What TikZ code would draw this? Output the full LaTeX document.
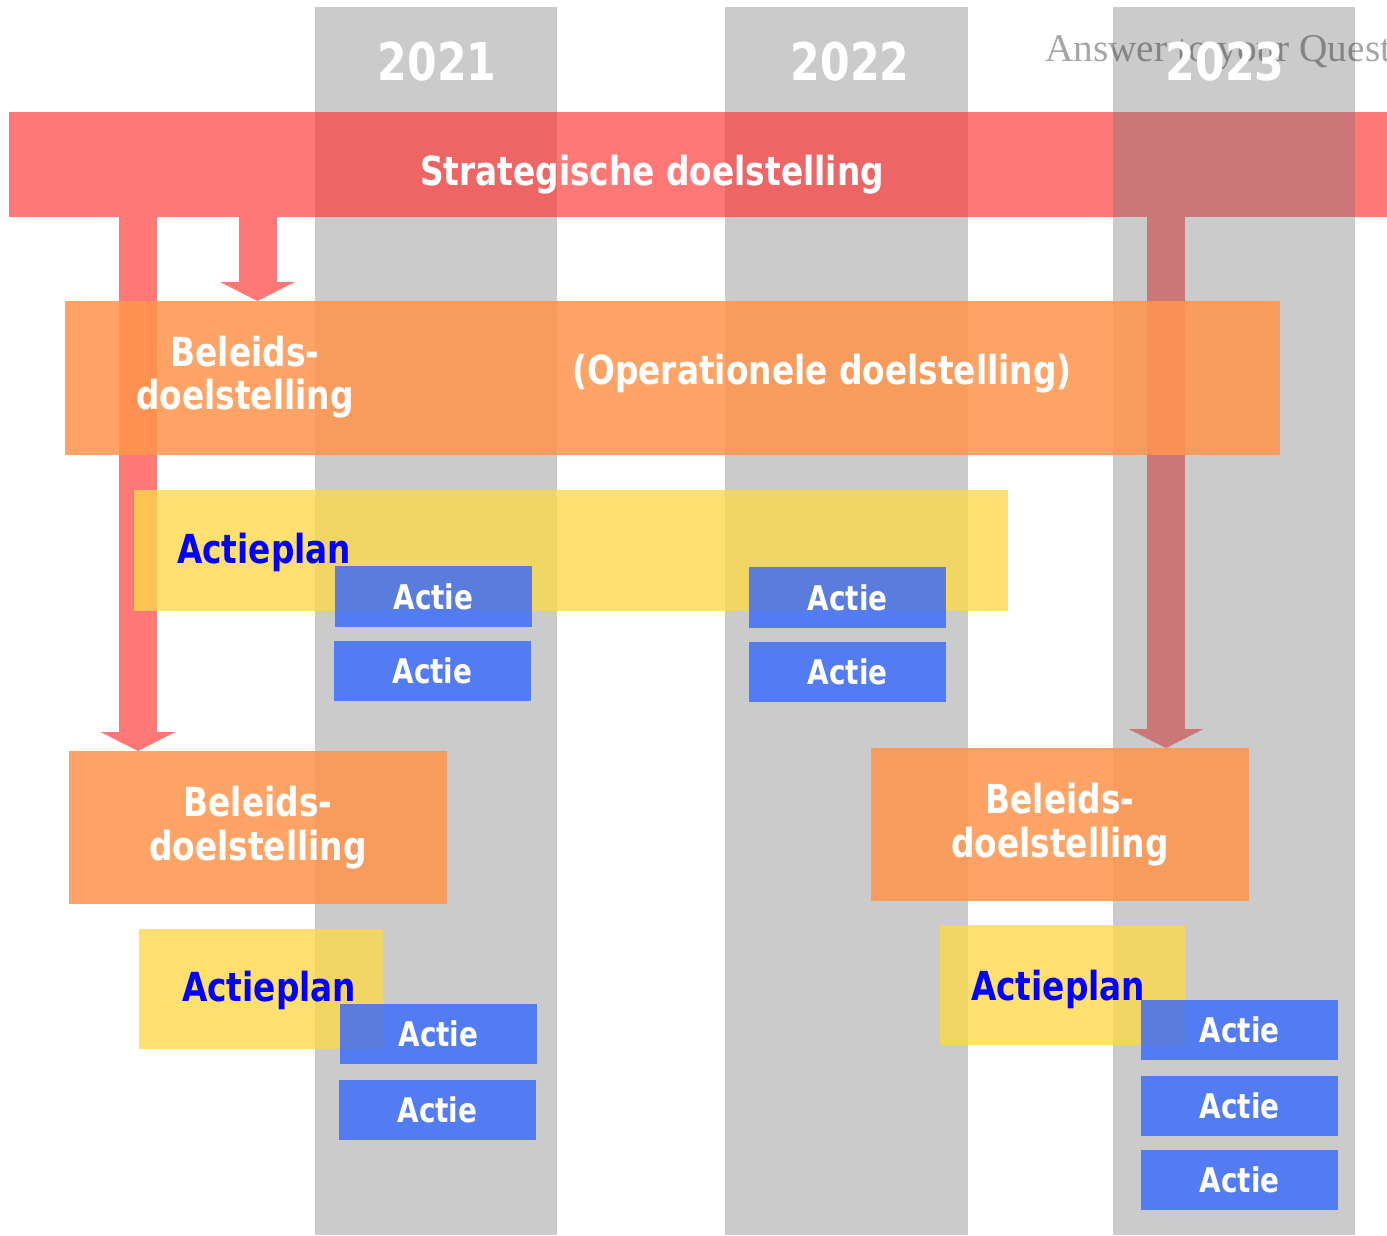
\documentclass[tikz,border=0pt]{standalone}
\usepackage{fontspec}
\newfontfamily\tah{DejaVu Sans}[FakeStretch=0.82]
\newfontfamily\wmfont{Liberation Serif}
\usetikzlibrary{arrows.meta}
\pgfdeclarelayer{cols}\pgfdeclarelayer{bars}\pgfdeclarelayer{arrows}
\pgfsetlayers{cols,bars,arrows,main}
\newdimen\pxu \pxu=0.75pt
\definecolor{colgray}{HTML}{CBCBCB}
\definecolor{barred}{HTML}{FF3535}
\definecolor{colred}{HTML}{CC7777}
\definecolor{arrowred}{HTML}{FF7777}
\definecolor{orangeF}{HTML}{FF954E}
\definecolor{yellowF}{HTML}{FCD84A}
\definecolor{blueF}{HTML}{3567FC}
\definecolor{planblue}{HTML}{0000FF}
\begin{document}
\begin{tikzpicture}[x=0.75pt,y=-0.75pt,
  every node/.style={inner sep=0pt, outer sep=0pt},
  colbox/.style={fill=colgray, anchor=north west, minimum height=1228\pxu},
  barbox/.style={fill=barred, fill opacity=0.673, anchor=north west},
  obox/.style={fill=orangeF, fill opacity=0.865, text opacity=1, text=white, anchor=north west, align=center,
     font=\tah\bfseries\fontsize{30}{32.5}\selectfont},
  ybox/.style={fill=yellowF, fill opacity=0.79, anchor=north west},
  abox/.style={fill=blueF, fill opacity=0.8, text opacity=1, text=white, anchor=north west,
     minimum width=197\pxu, minimum height=60\pxu, font=\tah\bfseries\fontsize{25.5}{28}\selectfont},
  plantext/.style={text=planblue, anchor=base west, font=\tah\bfseries\fontsize{30}{32}\selectfont},
  whitetext/.style={text=white, font=\tah\bfseries\fontsize{30}{32.5}\selectfont},
  yeartext/.style={text=white, anchor=base, font=\tah\bfseries\fontsize{39}{42}\selectfont},
  bigarrow/.style={line width=28.5pt, -{Triangle[width=56.25pt,length=14.25pt,line width=0pt]}},
]
\useasboundingbox (0,0) rectangle (1387,1235);

\begin{pgfonlayer}{cols}
\node[colbox, minimum width=242\pxu] (c1) at (315,7) {};
\node[colbox, minimum width=243\pxu] (c2) at (725,7) {};
\node[colbox, minimum width=242\pxu] (c3) at (1113,7) {};
\begin{scope}
\clip (0,0) rectangle (1387,1235);
\node[anchor=base west, text=black, text opacity=0.35, font=\wmfont\fontsize{29.5}{32}\selectfont] (wm) at (1045,61) {Answer to your Questions};
\end{scope}
\end{pgfonlayer}

\begin{pgfonlayer}{bars}
\node[barbox, minimum width=1378\pxu, minimum height=105\pxu] (bar) at (9,112) {};
\fill[colred] (c3.west |- bar.north) rectangle (c3.east |- bar.south);
\end{pgfonlayer}

% years and main bar text
\node[yeartext] (y1) at (437,80) {2021};
\node[yeartext] (y2) at (850,80) {2022};
\node[yeartext] (y3) at (1225,80) {2023};
\node[whitetext, anchor=base] (bart) at (652,185) {Strategische doelstelling};

% orange boxes
\node[obox, minimum width=1215\pxu, minimum height=154\pxu] (ob1) at (65,301) {};
\node[whitetext, align=center] (ob1l) at (245,377) {Beleids-\\doelstelling};
\node[whitetext] (ob1r) at (822,374) {(Operationele doelstelling)};
\node[obox, minimum width=378\pxu, minimum height=153\pxu] (ob2) at (69,751) {Beleids-\\doelstelling};
\node[obox, minimum width=378\pxu, minimum height=153\pxu] (ob3) at (871,748) {Beleids-\\doelstelling};

% yellow boxes
\node[ybox, minimum width=874\pxu, minimum height=121\pxu] (yb1) at (134,490) {};
\node[ybox, minimum width=244\pxu, minimum height=120\pxu] (yb2) at (139,929) {};
\node[ybox, minimum width=245\pxu, minimum height=120\pxu] (yb3) at (940,925) {};
\node[plantext] (yt1) at (177,563) {Actieplan};
\node[plantext] (yt2) at (182,1001) {Actieplan};
\node[plantext] (yt3) at (971,1000) {Actieplan};

% action boxes
\node[abox, minimum height=61\pxu] (a1) at (335,566) {Actie};
\node[abox] (a2) at (334,641) {Actie};
\node[abox, minimum height=61\pxu] (a3) at (749,567) {Actie};
\node[abox] (a4) at (749,642) {Actie};
\node[abox] (a5) at (340,1004) {Actie};
\node[abox] (a6) at (339,1080) {Actie};
\node[abox] (a7) at (1141,1000) {Actie};
\node[abox] (a8) at (1141,1076) {Actie};
\node[abox] (a9) at (1141,1150) {Actie};

\begin{pgfonlayer}{arrows}
\coordinate (xl) at (138,0);
\coordinate (xs) at (257.5,0);
\coordinate (xr) at (1166,0);
\draw[bigarrow, draw=arrowred] (bar.south -| xl) -- (ob2.north -| xl);
\draw[bigarrow, draw=arrowred] (bar.south -| xs) -- (ob1.north -| xs);
\draw[bigarrow, draw=colred] (bar.south -| xr) -- (ob3.north -| xr);
\end{pgfonlayer}
\end{tikzpicture}
\end{document}
